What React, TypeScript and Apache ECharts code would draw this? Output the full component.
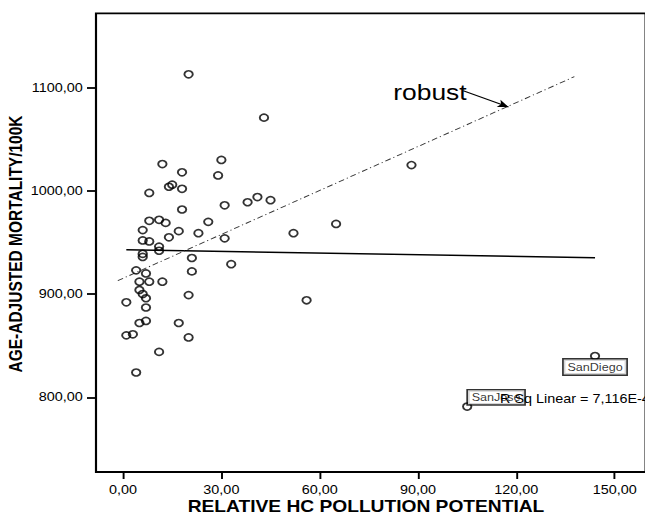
import React, { useEffect, useRef } from "react";
import * as echarts from "echarts";

// Relative HC pollution potential (x) and age-adjusted mortality per 100k (y)
const hcValues = [
  20, 43, 12, 30, 18, 29, 14, 15, 8, 18, 18, 31, 38, 41, 45, 52, 8, 11, 13, 26,
  6, 17, 23, 6, 8, 14, 31, 11, 11, 6, 6, 21, 33, 4, 7, 21, 5, 8, 12, 5, 6, 7, 1,
  20, 7, 56, 7, 5, 17, 1, 3, 20, 11, 4, 65, 88,
];
const mortalityValues = [
  1113, 1071, 1026, 1030, 1018, 1015, 1004, 1006, 998, 1002, 982, 986, 989, 994,
  991, 959, 971, 972, 969, 970, 962, 961, 959, 952, 951, 955, 954, 946, 942, 939,
  936, 935, 929, 923, 920, 922, 912, 912, 912, 904, 900, 896, 892, 899, 887, 894,
  874, 872, 872, 860, 861, 858, 844, 824, 968, 1025,
];
const labeledCities = ["SanDiego", "SanJose"];
const labeledHC = [144, 105];
const labeledMortality = [840, 791];

// Fit lines (end points)
const linearFitX = [1, 144];
const linearFitY = [943, 935.3];
const robustFitX = [-1.6, 137.7];
const robustFitY = [913, 1110.7];
const arrowFrom = [103.8, 1097];
const arrowTo = [117.6, 1081.3];

const xTicks = [0, 30, 60, 90, 120, 150];
const yTicks = [800, 900, 1000, 1100];
const xTitle = "RELATIVE HC POLLUTION POTENTIAL";
const yTitle = "AGE-ADJUSTED MORTALITY/100K";
const rsqText = "R Sq Linear = 7,116E-4";
const robustText = "robust";

const FONT = '"Liberation Sans", Arial, Helvetica, sans-serif';
const STRETCH = 1.2;

const fmt = (v: number) => v.toFixed(2).replace(".", ",");

export default function App() {
  const ref = useRef<HTMLDivElement>(null);

  useEffect(() => {
    if (!ref.current) return;
    const chart = echarts.init(ref.current, null, { renderer: "svg" });
    const scatterData = hcValues.map((x, i) => [x, mortalityValues[i]]);
    const labelOffsets: number[][] = [
      [0, 11],
      [24.1, -9.2],
    ];
    const labelPadding: number[][] = [
      [2, 3],
      [1.5, 3],
    ];
    const labeledSeries = labeledCities.map((name, i) => ({
      type: "scatter",
      name,
      z: 5,
      symbol: "circle",
      symbolSize: 7,
      itemStyle: { color: "rgba(0,0,0,0)", borderColor: "#000", borderWidth: 1.6 },
      data: [[labeledHC[i], labeledMortality[i]]],
      label: {
        show: true,
        formatter: name,
        position: "inside",
        offset: labelOffsets[i],
        fontSize: 10.5,
        fontFamily: FONT,
        color: "#000",
        lineHeight: 11,
        backgroundColor: "#fff",
        borderColor: "#000",
        borderWidth: 1.4,
        padding: labelPadding[i],
      },
    }));

    chart.setOption({
      animation: false,
      grid: {
        left: 80,
        top: 13.3,
        right: -5,
        bottom: 46,
        show: true,
        borderColor: "#000",
        borderWidth: 1.8,
        backgroundColor: "transparent",
      },
      xAxis: {
        type: "value",
        min: -8.25,
        max: 159.43,
        axisLine: { show: false, onZero: false },
        splitLine: { show: false },
        axisTick: {
          show: true,
          length: 7,
          customValues: xTicks,
          lineStyle: { color: "#000", width: 1.6 },
        },
        axisLabel: {
          customValues: xTicks,
          formatter: fmt,
          fontSize: 12,
          fontFamily: FONT,
          color: "#000",
          margin: 12,
        },
      },
      yAxis: {
        type: "value",
        min: 727.6,
        max: 1172.1,
        axisLine: { show: false, onZero: false },
        splitLine: { show: false },
        axisTick: {
          show: true,
          length: 7.5,
          customValues: yTicks,
          lineStyle: { color: "#000", width: 1.8 },
        },
        axisLabel: {
          customValues: yTicks,
          formatter: fmt,
          fontSize: 12,
          fontFamily: FONT,
          color: "#000",
          margin: 11,
        },
      },
      series: [
        {
          type: "scatter",
          symbol: "circle",
          symbolSize: 7,
          itemStyle: { color: "rgba(0,0,0,0)", borderColor: "#000", borderWidth: 1.6 },
          data: scatterData,
          z: 3,
        },
        {
          type: "line",
          data: linearFitX.map((x, i) => [x, linearFitY[i]]),
          symbol: "none",
          lineStyle: { color: "#000", width: 1.5 },
          z: 2,
        },
        {
          type: "line",
          data: robustFitX.map((x, i) => [x, robustFitY[i]]),
          symbol: "none",
          lineStyle: { color: "#333", width: 0.9, type: [5, 2.5, 1, 2.5] },
          z: 2,
          markLine: {
            silent: true,
            symbol: ["none", "arrow"],
            symbolSize: [6, 9],
            label: { show: false },
            lineStyle: { color: "#000", width: 1, type: "solid" },
            data: [[{ coord: arrowFrom }, { coord: arrowTo }]],
          },
        },
        ...labeledSeries,
      ],
      graphic: [
        {
          type: "text",
          x: 305,
          y: 506.5,
          z: 100,
          style: {
            text: xTitle,
            fontSize: 16,
            fontWeight: "bold",
            fontFamily: FONT,
            fill: "#000",
            textAlign: "center",
            textVerticalAlign: "middle",
            align: "center",
            verticalAlign: "middle",
          },
        },
        {
          type: "text",
          x: 13.75,
          y: 244,
          rotation: Math.PI / 2,
          z: 100,
          style: {
            text: yTitle,
            fontSize: 15.5,
            fontWeight: "bold",
            fontFamily: FONT,
            fill: "#000",
            textAlign: "center",
            textVerticalAlign: "middle",
            align: "center",
            verticalAlign: "middle",
          },
        },
        {
          type: "text",
          x: 327.75,
          y: 92.3,
          z: 100,
          style: {
            text: robustText,
            fontSize: 22,
            fontFamily: FONT,
            fill: "#000",
            textAlign: "left",
            textVerticalAlign: "middle",
            align: "left",
            verticalAlign: "middle",
          },
        },
        {
          type: "text",
          x: 416.7,
          y: 398.5,
          z: 100,
          style: {
            text: rsqText,
            fontSize: 12,
            fontFamily: FONT,
            fill: "#000",
            textAlign: "left",
            textVerticalAlign: "middle",
            align: "left",
            verticalAlign: "middle",
          },
        },
      ],
    });
    return () => chart.dispose();
  }, []);

  return (
    <div
      style={{
        position: "fixed",
        left: 0,
        top: 0,
        width: 645,
        height: 518,
        overflow: "hidden",
        background: "#fff",
      }}
    >
      <div
        ref={ref}
        style={{
          width: 538,
          height: 518,
          transform: `scaleX(${STRETCH})`,
          transformOrigin: "0 0",
        }}
      />
    </div>
  );
}
